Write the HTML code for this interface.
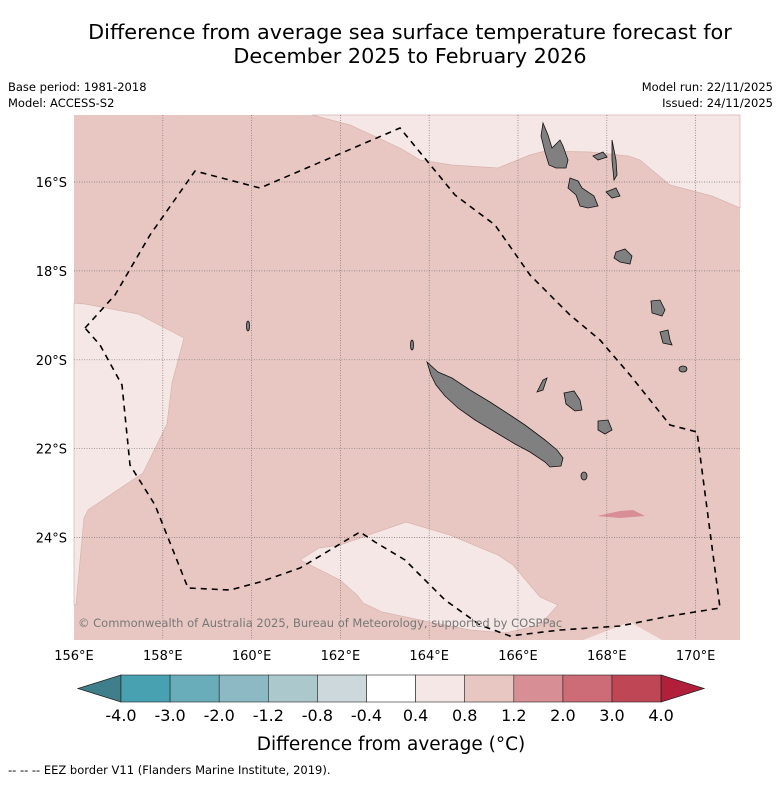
<!DOCTYPE html>
<html><head><meta charset="utf-8"><style>
body{margin:0;background:#fff;font-family:"Liberation Sans","DejaVu Sans",sans-serif}
svg text{font-family:"DejaVu Sans","Liberation Sans",sans-serif}
</style></head><body>
<svg width="781" height="781" viewBox="0 0 781 781" xmlns="http://www.w3.org/2000/svg">
<text x="410" y="39" font-size="20.8" text-anchor="middle">Difference from average sea surface temperature forecast for</text>
<text x="410" y="63" font-size="20.8" text-anchor="middle">December 2025 to February 2026</text>
<text x="8" y="91" font-size="11.5">Base period: 1981-2018</text>
<text x="8" y="107" font-size="11.5">Model: ACCESS-S2</text>
<text x="773" y="91" font-size="11.5" text-anchor="end">Model run: 22/11/2025</text>
<text x="773" y="107" font-size="11.5" text-anchor="end">Issued: 24/11/2025</text>
<g id="map">
<rect x="74" y="115" width="666" height="525" fill="#e8c7c2"/>
<polygon fill="#f4e7e5" stroke="#d9b3ae" stroke-width="0.7" points="312,115 740,115 740,208 712,196 670,185 640,160 628,156 590,152 545,151 530,155 498,168 452,165 420,160 400,148 350,125"/>
<polygon fill="#f4e7e5" stroke="#d9b3ae" stroke-width="0.7" points="74,303 85,304 138,314 184,338 172,383 167,424 143,473 88,510 84,518 76,605 74,605"/>
<polygon fill="#f4e7e5" stroke="#d9b3ae" stroke-width="0.7" points="300,560 319,548 340,545 406,522 450,535 498,555 513,565 540,597 558,605 540,625 505,633 470,630 420,620 382,612 363,603 357,595 340,580"/>
<polygon fill="#f4e7e5" points="583,640 630,622 662,640"/>
<polygon fill="#d78e95" points="597,516 620,511 633,510 645,516 620,518"/>
<g stroke="#777" stroke-width="0.7" stroke-dasharray="1,1.5" id="grid"></g>
<g fill="#808080" stroke="#111" stroke-width="0.8">
<polygon points="427,362 438,372 452,378 470,390 490,402 510,415 525,425 545,440 557,450 563,458 561,466 550,467 545,462 530,452 515,444 495,432 475,420 458,408 445,396 436,385 431,375"/>
<polygon points="543,123 548,135 552,148 560,140 563,146 568,160 566,168 556,168 549,165 545,152 541,136"/>
<polygon points="570,178 578,181 582,188 594,196 598,206 588,208 580,206 576,195 568,188"/>
<polygon points="616,252 625,249 632,256 630,264 620,262 614,258"/>
<polygon points="651,301 660,300 665,310 662,316 652,313"/>
<polygon points="660,332 668,330 670,340 672,345 663,343"/>
<polygon points="612,140 616,160 617,175 614,180 612,160"/>
<polygon points="606,192 616,188 620,196 612,198"/>
<polygon points="593,156 603,152 607,157 598,160"/>
<polygon points="564,393 574,391 580,400 582,410 575,411 566,404"/>
<polygon points="598,421 608,420 612,430 605,434 598,430"/>
<polygon points="537,392 543,380 547,378 543,390"/>
<ellipse cx="683" cy="369" rx="4" ry="3"/>
<ellipse cx="584" cy="476" rx="3" ry="4"/>
<ellipse cx="248" cy="326" rx="1.5" ry="5"/>
<ellipse cx="412" cy="345" rx="1.5" ry="5"/>
</g>
<polyline fill="none" stroke="#000" stroke-width="1.6" stroke-dasharray="6,5" points="85,328 115,295 150,235 195,171 260,188 400,128 455,195 495,225 530,275 570,315 600,340 630,375 670,425 697,432 720,608 670,616 620,626 560,630 510,636 480,625 445,600 420,575 405,560 375,542 360,532 330,550 300,568 260,582 230,590 188,588 155,505 130,465 122,385 100,345 85,328"/>
<text x="78" y="627" font-size="11.5" fill="#777">© Commonwealth of Australia 2025, Bureau of Meteorology, supported by COSPPac</text>
</g>
<g id="axes" font-size="13"></g>
<g id="cbar"></g>
<text x="391" y="750" font-size="18.5" text-anchor="middle">Difference from average (°C)</text>
<text x="8" y="774" font-size="11.5">--  --  -- EEZ border V11 (Flanders Marine Institute, 2019).</text>
</svg>
<script>
const lonTicks=[156,158,160,162,164,166,168,170];
const latTicks=[16,18,20,22,24];
const cbarBounds=["-4.0","-3.0","-2.0","-1.2","-0.8","-0.4","0.4","0.8","1.2","2.0","3.0","4.0"];
const cbarColors=["#48a1b1","#6aadba","#8db9c4","#abc9cd","#cdd8dc","#ffffff","#f4e7e5","#e8c7c2","#d78e95","#cd6b76","#bf4655"];
const NS="http://www.w3.org/2000/svg";
const xLon=l=>74+(l-156)*44.4;
const yLat=l=>182+(l-16)*44.45;
const grid=document.getElementById('grid'),axes=document.getElementById('axes'),cb=document.getElementById('cbar');
function mk(tag,attrs,parent){const e=document.createElementNS(NS,tag);for(const k in attrs)e.setAttribute(k,attrs[k]);parent.appendChild(e);return e;}
lonTicks.forEach(l=>{
  const x=xLon(l);
  if(l>156){const g=mk('line',{x1:x,x2:x,y1:115,y2:640},grid);
  
  }
  const t=mk('text',{x:x,y:660,'text-anchor':'middle'},axes);t.textContent=l+'°E';
  
  
});
latTicks.forEach(l=>{
  const y=yLat(l);
  const g=mk('line',{x1:74,x2:740,y1:y,y2:y},grid);
  
  
  const t=mk('text',{x:67,y:y+5,'text-anchor':'end'},axes);t.textContent=l+'°S';
  
  
});
const cx0=121,cw=49.1,cy=675,ch=27;
const lo=mk('polygon',{points:`${cx0},${cy} ${cx0},${cy+ch} 78,${cy+ch/2}`,fill:'#3e7f8b',stroke:'#222','stroke-width':0.8},cb);


cbarColors.forEach((c,i)=>{
  const r=mk('rect',{x:cx0+i*cw,y:cy,width:cw,height:ch,fill:c,stroke:'#222','stroke-width':0.6},cb);
  
  
});
const xe=cx0+cbarColors.length*cw;
const hi=mk('polygon',{points:`${xe},${cy} ${xe},${cy+ch} 704,${cy+ch/2}`,fill:'#b11f3a',stroke:'#222','stroke-width':0.8},cb);


cbarBounds.forEach((b,i)=>{
  const t=mk('text',{x:cx0+i*cw,y:721,'text-anchor':'middle','font-size':16},cb);t.textContent=b;
  
  
});
</script>
</body></html>
